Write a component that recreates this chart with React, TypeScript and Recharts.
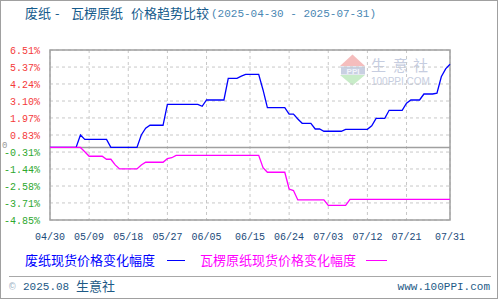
import React from "react";
import {
  LineChart,
  Line,
  XAxis,
  YAxis,
  CartesianGrid,
  ReferenceLine,
  ReferenceArea,
} from "recharts";

// one label per calendar day, 2025-04-30 .. 2025-07-31
const dates: string[] = Array.from({ length: 93 }, (_, i) => {
  const d = new Date(2025, 3, 30 + i);
  const mm = String(d.getMonth() + 1).padStart(2, "0");
  const dd = String(d.getDate()).padStart(2, "0");
  return `${mm}/${dd}`;
});

const xTicks = [
  "04/30", "05/09", "05/18", "05/27", "06/05", "06/15",
  "06/24", "07/03", "07/12", "07/21", "07/31",
];

const yTicks = [6.51, 5.37, 4.24, 3.1, 1.97, 0.83, -0.31, -1.44, -2.58, -3.71, -4.85];

// 废纸现货价格变化幅度 (%)
const wastePaper = [
  0, 0, 0, 0, 0, 0, 0, 0.83, 0.54, 0.54,
  0.54, 0.54, 0.54, 0.54, 0, 0, 0, 0, 0, 0,
  0, 0.83, 1.28, 1.48, 1.48, 1.48, 1.48, 2.88, 2.88, 2.88,
  2.88, 2.88, 2.88, 2.88, 2.88, 2.75, 3.17, 3.17, 3.17, 3.17,
  3.17, 4.62, 4.62, 4.62, 4.76, 4.88, 4.88, 4.88, 4.88, 3.84,
  2.66, 2.66, 2.66, 2.66, 2.66, 2.23, 2.23, 1.9, 1.61, 1.61,
  1.61, 1.23, 1.23, 1.08, 1.08, 1.08, 1.08, 1.08, 1.21, 1.21,
  1.21, 1.21, 1.21, 1.21, 1.45, 1.94, 1.94, 1.94, 2.48, 2.48,
  2.48, 2.48, 2.95, 3.17, 3.17, 3.17, 3.57, 3.57, 3.57, 3.62,
  4.72, 5.25, 5.56,
];

// 瓦楞原纸现货价格变化幅度 (%)
const corrugated = [
  0, 0, 0, 0, 0, 0, 0, 0, -0.29, -0.59,
  -0.59, -0.59, -0.59, -0.79, -0.79, -1.17, -1.44, -1.44, -1.44, -1.44,
  -1.44, -1.17, -0.99, -0.99, -0.99, -0.99, -0.99, -0.75, -0.69, -0.53,
  -0.53, -0.53, -0.53, -0.53, -0.53, -0.53, -0.53, -0.53, -0.53, -0.53,
  -0.53, -0.53, -0.53, -0.53, -0.53, -0.53, -0.53, -0.53, -0.53, -1.35,
  -1.66, -1.66, -1.66, -1.66, -1.66, -2.78, -2.88, -3.51, -3.51, -3.51,
  -3.51, -3.51, -3.51, -3.51, -3.87, -3.87, -3.87, -3.87, -3.87, -3.47,
  -3.47, -3.47, -3.47, -3.47, -3.47, -3.47, -3.47, -3.47, -3.47, -3.47,
  -3.47, -3.47, -3.47, -3.47, -3.47, -3.47, -3.47, -3.47, -3.47, -3.47,
  -3.47, -3.47, -3.47,
];

const MONO = "'Liberation Mono', 'DejaVu Sans Mono', monospace";
const CJK = "'Noto Sans CJK SC', sans-serif";

const YTick = ({ x, y, payload }: any) => (
  <text
    x={x - 2}
    y={y}
    dy={4}
    textAnchor="end"
    fontFamily={MONO}
    fontSize={10}
    fill={payload.value >= 0 ? "#f43a3a" : "#2ea82e"}
  >
    {payload.value.toFixed(2)}%
  </text>
);

const XTick = ({ x, y, payload }: any) => (
  <text
    x={x}
    y={y}
    dy={12}
    textAnchor="middle"
    fontFamily={MONO}
    fontSize={10}
    fill="#1b4a7a"
  >
    {payload.value}
  </text>
);

export default function App() {
  const data = dates.map((d, i) => ({
    date: d,
    waste: wastePaper[i],
    corr: corrugated[i],
  }));

  return (
    <div
      style={{
        position: "absolute",
        left: 0,
        top: 0,
        width: 500,
        height: 300,
        background: "#fff",
      }}
    >
      <svg
        width={500}
        height={300}
        style={{ position: "absolute", left: 0, top: 0 }}
      >
        <rect x={0.5} y={0.5} width={497} height={298} fill="none" stroke="#a0a0a0" />

        {/* title */}
        <g fontFamily={CJK} fontSize={13} fill="#165b8c">
          <text x={25} y={18}>废纸</text>
          <text x={55} y={18}>-</text>
          <text x={71} y={18}>瓦楞原纸</text>
          <text x={131} y={18}>价格趋势比较</text>
        </g>
        <text x={211} y={17} fontFamily={MONO} fontSize={11} fill="#4a87b3">
          (2025-04-30 - 2025-07-31)
        </text>

        {/* watermark */}
        <polygon points="340,66 352.5,54.5 365,66" fill="#f5bdbd" />
        <rect x={341} y={66.5} width={24} height={8} fill="#c9d0e2" />
        <text x={353} y={73.5} textAnchor="middle" fontFamily="'Liberation Sans', sans-serif" fontSize={8} fontWeight="bold" fill="#f2f4fa">
          PPI
        </text>
        <polygon points="340,75 365,75 352.5,85.5" fill="#c8ecc8" />
        <g fontFamily={CJK} fontSize={15} fill="#c6cde0">
          <text x={371} y={71}>生</text>
          <text x={393} y={71}>意</text>
          <text x={413} y={71}>社</text>
        </g>
        <text x={371} y={85} fontFamily="'Liberation Sans', sans-serif" fontSize={10} fill="#c6cde0">
          100PPI.COM
        </text>

        {/* zero marker */}
        <text x={2} y={148} fontFamily={MONO} fontSize={9} fill="#999">0</text>

        {/* legend */}
        <text x={25} y={265} fontFamily={CJK} fontSize={13} fill="#0000ff">
          废纸现货价格变化幅度
        </text>
        <line x1={167} y1={260.5} x2={185} y2={260.5} stroke="#0000ff" />
        <text x={200} y={265} fontFamily={CJK} fontSize={13} fill="#ff00ff">
          瓦楞原纸现货价格变化幅度
        </text>
        <line x1={366} y1={260.5} x2={387} y2={260.5} stroke="#ff00ff" />

        {/* footer */}
        <line x1={9} y1={276.5} x2={491} y2={276.5} stroke="#a8a8a8" />
        <text x={9} y={290} fontFamily={MONO} fontSize={11} fill="#9ab0c4">©</text>
        <text x={23} y={290} fontFamily={MONO} fontSize={11} fill="#1d5a86">2025.08</text>
        <text x={76} y={291} fontFamily={CJK} fontSize={13} fill="#1d5a86">生意社</text>
        <text x={490} y={290} textAnchor="end" fontFamily={MONO} fontSize={11} fill="#1d5a86">
          www.100PPI.com
        </text>
      </svg>

      <div style={{ position: "absolute", left: 0, top: 0 }}>
        <LineChart
          width={500}
          height={300}
          data={data}
          margin={{ top: 50, right: 50, left: 0, bottom: 0 }}
        >
          <CartesianGrid stroke="#c8c8c8" strokeDasharray="3 3" />
          <XAxis
            dataKey="date"
            ticks={xTicks}
            interval={0}
            height={80}
            axisLine={false}
            tickLine={false}
            tick={<XTick />}
          />
          <YAxis
            type="number"
            domain={[-4.85, 6.51]}
            ticks={yTicks}
            interval={0}
            width={50}
            axisLine={false}
            tickLine={false}
            tick={<YTick />}
          />
          <ReferenceArea
            x1="04/30"
            x2="07/31"
            y1={-4.85}
            y2={6.51}
            fill="none"
            stroke="#a0a0a0"
            strokeWidth={1.5}
          />
          <ReferenceLine y={0} stroke="#a0a0a0" strokeWidth={1.5} />
          <Line
            type="linear"
            dataKey="waste"
            stroke="#0000ff"
            strokeWidth={1.3}
            dot={false}
            isAnimationActive={false}
          />
          <Line
            type="linear"
            dataKey="corr"
            stroke="#ff00ff"
            strokeWidth={1.3}
            dot={false}
            isAnimationActive={false}
          />
        </LineChart>
      </div>
    </div>
  );
}
